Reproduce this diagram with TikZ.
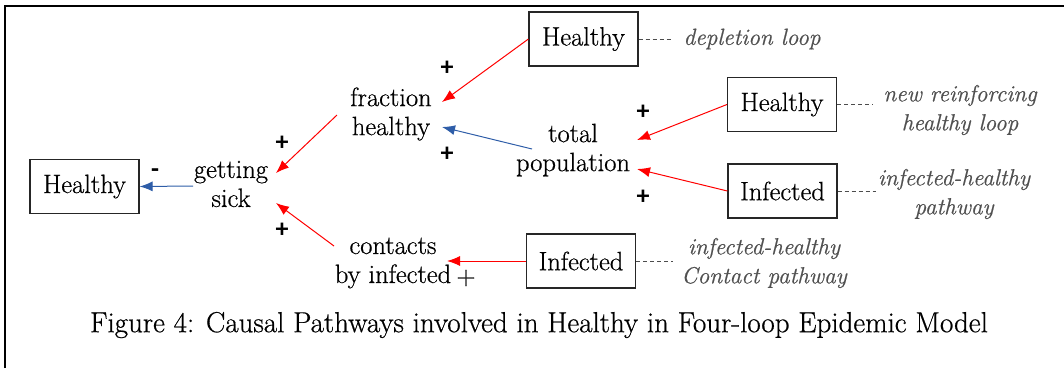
\documentclass[tikz,border=0pt]{standalone}
\usepackage{fontspec}
\setmainfont{Latin Modern Roman}[FakeBold=0.6]
\newfontfamily\plusfont{Carlito}
\usetikzlibrary{arrows.meta}
\definecolor{posred}{HTML}{FF0000}
\definecolor{negblue}{HTML}{2E5DA8}
\definecolor{notegray}{HTML}{505050}
\begin{document}
\begin{tikzpicture}[x=1pt,y=-1pt,
  stock/.style={draw=black!85,line width=1.2pt,minimum width=109pt,minimum height=54pt,inner sep=0pt,font=\fontsize{26.5}{29}\selectfont},
  var/.style={align=center,inner sep=0pt,font=\fontsize{26.5}{29}\selectfont},
  note/.style={align=center,inner sep=0pt,text=notegray,font=\fontsize{23.3}{29}\selectfont\itshape},
  sign/.style={inner sep=0pt,font=\fontsize{26}{28}\selectfont\plusfont\bfseries},
  poslink/.style={draw=posred,line width=1pt,-{Latex[length=13pt,width=10pt]}},
  neglink/.style={draw=negblue,line width=1pt,-{Latex[length=13pt,width=10pt]}},
  notelink/.style={draw=black!70,line width=0.8pt,dash pattern=on 4pt off 3pt}]
\useasboundingbox (0,0) rectangle (1064,368);
\draw[line width=2pt] (5,368) -- (5,6) -- (1064,6);
% stocks
\node[stock] (h0) at (84.5,186.5) {Healthy};
\node[stock] (h1) at (583.5,39) {Healthy};
\node[stock] (h2) at (782,104.5) {Healthy};
\node[stock] (i2) at (782.5,191) {Infected};
\node[stock] (i1) at (581,261) {Infected};
% variables
\node[var] (gs) at (231,184) {getting\\sick};
\node[var] (fh) at (391,114) {fraction\\healthy};
\node[var] (tp) at (573,150) {total\\population};
\node[var] (cbi) at (393,263) {contacts\\by infected};
% notes
\node[note] (dl) at (752,39) {depletion loop};
\node[note] (nrl) at (960,110) {new reinforcing\\healthy loop};
\node[note] (ihp) at (954,194) {infected-healthy\\pathway};
\node[note] (ihc) at (764,263) {infected-healthy\\Contact pathway};
% caption
\node[inner sep=0pt,font=\fontsize{29}{32}\selectfont] (cap) at (539,325) {Figure 4: Causal Pathways involved in Healthy in Four-loop Epidemic Model};
% signs
\node[sign] (s1) at (155,173) {-};
\node[sign] (s2) at (282,143) {+};
\node[sign] (s3) at (282,230) {+};
\node[sign] (s4) at (447,68) {+};
\node[sign] (s5) at (447,154) {+};
\node[sign] (s6) at (643,112) {+};
\node[sign] (s7) at (643,197) {+};
\node[var] (s8) at (466,278) {+};
% connectors
\draw[neglink] ([shift={(-38,2)}]gs.center) -- (h0.east);
\draw[poslink] ([shift={(-54,1)}]fh.center) -- ([shift={(45,-11)}]gs.center);
\draw[poslink] ([shift={(-59,-17)}]cbi.center) -- ([shift={(45,19)}]gs.center);
\draw[poslink] (h1.west) -- ([shift={(51,-12)}]fh.center);
\draw[neglink] ([shift={(-41,-1)}]tp.center) -- ([shift={(51,13)}]fh.center);
\draw[poslink] (h2.west) -- ([shift={(64,-10)}]tp.center);
\draw[poslink] (i2.west) -- ([shift={(64,19)}]tp.center);
\draw[poslink] (i1.west) -- ([shift={(54,-2)}]cbi.center);
% note links
\draw[notelink] (h1.east) -- ++(32,0);
\draw[notelink] (h2.east) -- ++(36,0);
\draw[notelink] (i2.east) -- ++(38,0);
\draw[notelink] (i1.east) -- ++(37,0);
\end{tikzpicture}
\end{document}
